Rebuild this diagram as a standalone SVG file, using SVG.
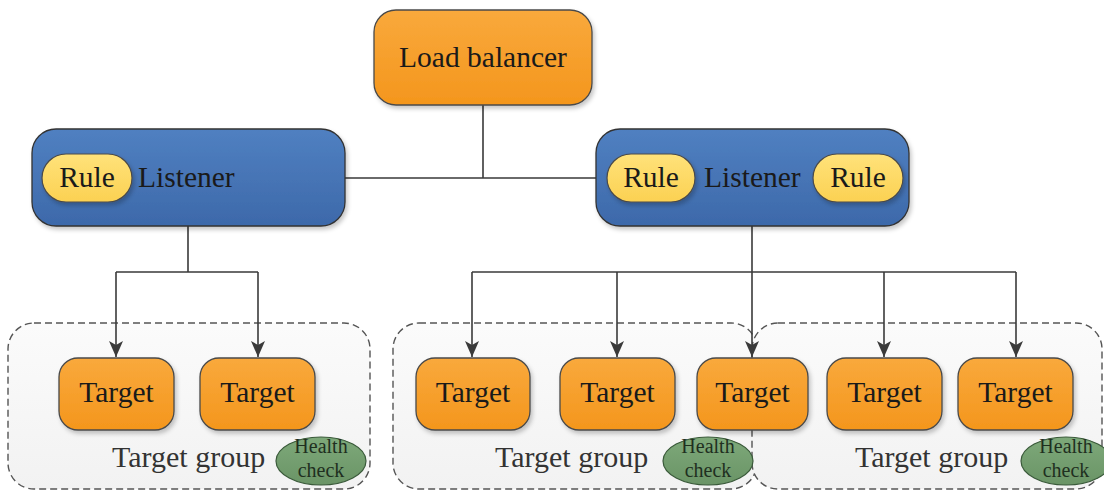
<svg xmlns="http://www.w3.org/2000/svg" width="1104" height="492" viewBox="0 0 1104 492" font-family="'Liberation Serif', 'Times New Roman', Times, serif">
<style>
text{font-family:'Liberation Serif','Times New Roman',Times,serif;fill:#1a1a1a}
.big{font-size:29.5px}
.grp{font-size:30px;fill:#333}
.hc{font-size:20px;fill:#1f2f1f}
.orange{fill:url(#gOrange);stroke:#4a4a4a;stroke-width:1.3}
.blue{fill:url(#gBlue);stroke:#333;stroke-width:1.3}
.rule{fill:url(#gYellow);stroke:#4a4a4a;stroke-width:1.2}
.health{fill:url(#gGreen);stroke:#3a5a3a;stroke-width:1.2}
.group{fill:url(#gGroup);stroke:#555;stroke-width:1.4;stroke-dasharray:7 4}
.conn{fill:none;stroke:#3a3a3a;stroke-width:1.6}
</style>
<defs>
<linearGradient id="gOrange" x1="0" y1="0" x2="0" y2="1"><stop offset="0" stop-color="#f9a93c"/><stop offset="1" stop-color="#f4961d"/></linearGradient>
<linearGradient id="gBlue" x1="0" y1="0" x2="0" y2="1"><stop offset="0" stop-color="#5080c1"/><stop offset="1" stop-color="#3d69aa"/></linearGradient>
<linearGradient id="gYellow" x1="0" y1="0" x2="0" y2="1"><stop offset="0" stop-color="#ffe27a"/><stop offset="1" stop-color="#fbd152"/></linearGradient>
<linearGradient id="gGreen" x1="0" y1="0" x2="0" y2="1"><stop offset="0" stop-color="#7ea97a"/><stop offset="1" stop-color="#6a9466"/></linearGradient>
<linearGradient id="gGroup" x1="0" y1="0" x2="0" y2="1"><stop offset="0" stop-color="#fbfbfb"/><stop offset="1" stop-color="#f2f2f2"/></linearGradient>
<filter id="shadow" x="-10%" y="-10%" width="130%" height="140%"><feDropShadow dx="2" dy="3" stdDeviation="2" flood-color="#000" flood-opacity="0.22"/></filter>
<marker id="arrow" viewBox="0 0 16 14" refX="16" refY="7" markerWidth="16" markerHeight="14" markerUnits="userSpaceOnUse" orient="auto"><path d="M0,0 L16,7 L0,14 L4,7 Z" fill="#3a3a3a"/></marker>
</defs>

<g id="groups">
<g id="group-left"><rect class="group" x="8" y="323" width="362" height="166" rx="26"/></g>
<g id="group-middle"><rect class="group" x="393" y="323" width="364" height="166" rx="26"/></g>
<g id="group-right"><rect class="group" x="752" y="323" width="350" height="166" rx="26"/></g>
</g>

<g id="connectors">
<path class="conn" d="M483,105 V178 M345,178 H596"/>
<path class="conn" d="M188,226 V272 M116,272 H258"/>
<path class="conn" d="M116,272 V357" marker-end="url(#arrow)"/>
<path class="conn" d="M258,272 V357" marker-end="url(#arrow)"/>
<path class="conn" d="M472,272 H1016"/>
<path class="conn" d="M752,226 V357" marker-end="url(#arrow)"/>
<path class="conn" d="M472,272 V357" marker-end="url(#arrow)"/>
<path class="conn" d="M617,272 V357" marker-end="url(#arrow)"/>
<path class="conn" d="M884,272 V357" marker-end="url(#arrow)"/>
<path class="conn" d="M1016,272 V357" marker-end="url(#arrow)"/>
</g>

<g id="load-balancer"><rect class="orange" filter="url(#shadow)" x="374" y="10" width="218" height="95" rx="22"/><text class="big" x="483" y="67" text-anchor="middle">Load balancer</text></g>

<g id="listener-left"><rect class="blue" filter="url(#shadow)" x="32" y="129" width="313" height="97" rx="24"/>
<rect class="rule" filter="url(#shadow)" x="42" y="154" width="90" height="48" rx="24"/>
<text class="big" x="87" y="187" text-anchor="middle">Rule</text>
<text class="big" x="138" y="187">Listener</text></g>

<g id="listener-right"><rect class="blue" filter="url(#shadow)" x="596" y="129" width="313" height="97" rx="24"/>
<rect class="rule" filter="url(#shadow)" x="607" y="154" width="88" height="48" rx="24"/>
<text class="big" x="651" y="187" text-anchor="middle">Rule</text>
<text class="big" x="704" y="187">Listener</text>
<rect class="rule" filter="url(#shadow)" x="813" y="154" width="90" height="48" rx="24"/>
<text class="big" x="858" y="187" text-anchor="middle">Rule</text></g>

<g id="target-1"><rect class="orange" filter="url(#shadow)" x="59" y="358" width="115" height="72" rx="19"/><text class="big" x="116.5" y="402" text-anchor="middle">Target</text></g>
<g id="target-2"><rect class="orange" filter="url(#shadow)" x="200" y="358" width="115" height="72" rx="19"/><text class="big" x="257.5" y="402" text-anchor="middle">Target</text></g>
<g id="target-3"><rect class="orange" filter="url(#shadow)" x="416" y="358" width="114" height="72" rx="19"/><text class="big" x="473" y="402" text-anchor="middle">Target</text></g>
<g id="target-4"><rect class="orange" filter="url(#shadow)" x="560" y="358" width="115" height="72" rx="19"/><text class="big" x="617.5" y="402" text-anchor="middle">Target</text></g>
<g id="target-5"><rect class="orange" filter="url(#shadow)" x="697" y="358" width="111" height="72" rx="19"/><text class="big" x="752.5" y="402" text-anchor="middle">Target</text></g>
<g id="target-6"><rect class="orange" filter="url(#shadow)" x="827" y="358" width="115" height="72" rx="19"/><text class="big" x="884.5" y="402" text-anchor="middle">Target</text></g>
<g id="target-7"><rect class="orange" filter="url(#shadow)" x="958" y="358" width="115" height="72" rx="19"/><text class="big" x="1015.5" y="402" text-anchor="middle">Target</text></g>

<g id="group-labels">
<text class="grp" x="112" y="467">Target group</text>
<text class="grp" x="495" y="467">Target group</text>
<text class="grp" x="855" y="467">Target group</text>
</g>

<g id="health-left"><ellipse class="health" cx="321" cy="461" rx="45" ry="24"/><text class="hc" x="321" y="453" text-anchor="middle">Health</text><text class="hc" x="321" y="477" text-anchor="middle">check</text></g>
<g id="health-middle"><ellipse class="health" cx="708" cy="461" rx="45" ry="24"/><text class="hc" x="708" y="453" text-anchor="middle">Health</text><text class="hc" x="708" y="477" text-anchor="middle">check</text></g>
<g id="health-right"><ellipse class="health" cx="1066" cy="461" rx="45" ry="24"/><text class="hc" x="1066" y="453" text-anchor="middle">Health</text><text class="hc" x="1066" y="477" text-anchor="middle">check</text></g>
</svg>
